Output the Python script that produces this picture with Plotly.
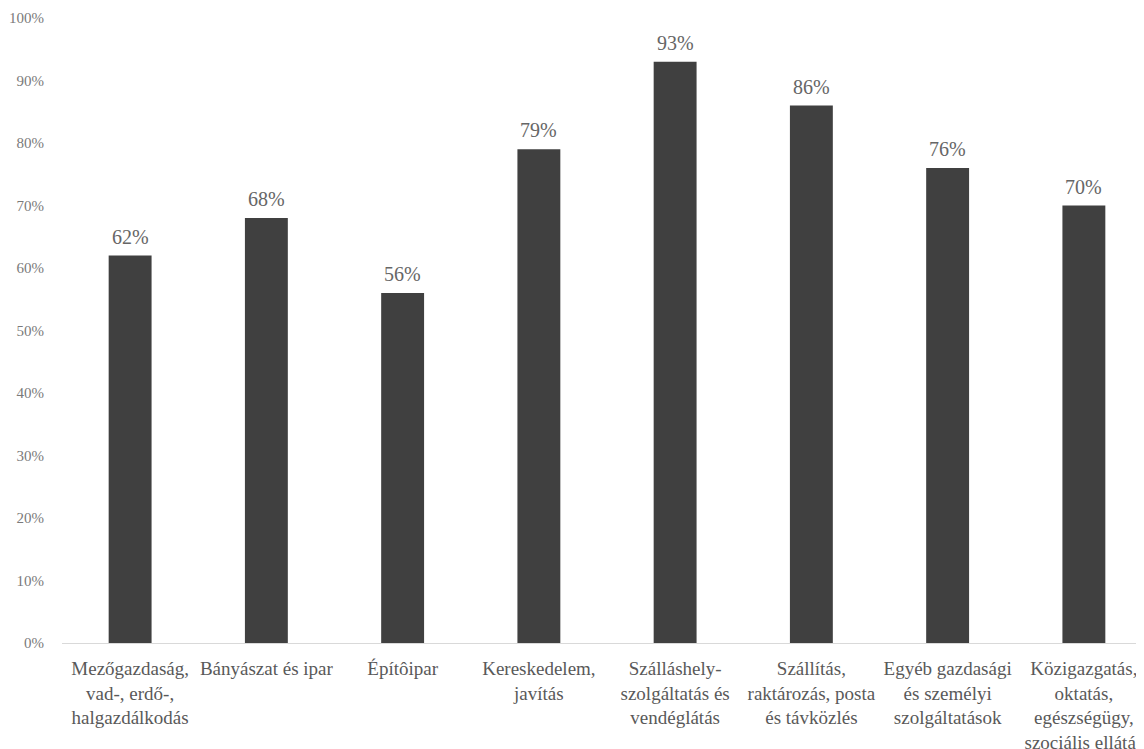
import plotly.graph_objects as go

categories = [
    "Mezőgazdaság,<br>vad-, erdő-,<br>halgazdálkodás",
    "Bányászat és ipar",
    "Építôipar",
    "Kereskedelem,<br>javítás",
    "Szálláshely-<br>szolgáltatás és<br>vendéglátás",
    "Szállítás,<br>raktározás, posta<br>és távközlés",
    "Egyéb gazdasági<br>és személyi<br>szolgáltatások",
    "Közigazgatás,<br>oktatás,<br>egészségügy,<br>szociális ellátás",
]
values = [62, 68, 56, 79, 93, 86, 76, 70]
y_ticks = [0, 10, 20, 30, 40, 50, 60, 70, 80, 90, 100]
y_tick_labels = [f"{v}%" for v in y_ticks]
value_labels = [f"{v}%" for v in values]

FONT = "Liberation Serif, Times New Roman, serif"

xs = list(range(len(categories)))

fig = go.Figure(go.Bar(
    x=xs,
    y=values,
    marker=dict(color="#404040", line=dict(width=0)),
))

for x, v, lbl in zip(xs, values, value_labels):
    fig.add_annotation(
        x=x, y=v, text=lbl, showarrow=False,
        xanchor="center", yanchor="bottom", yshift=6,
        font=dict(family=FONT, size=20, color="#666666"),
    )

fig.update_layout(
    width=1144, height=749,
    margin=dict(l=54, r=0, t=10, b=114, autoexpand=False),
    paper_bgcolor="white", plot_bgcolor="white",
    bargap=0.685,
    showlegend=False,
    font=dict(family=FONT, color="#595959"),
    xaxis=dict(
        tickmode="array",
        tickvals=xs,
        ticktext=categories,
        range=[-0.5, 7.5],
        showline=True, linecolor="#d9d9d9", linewidth=1,
        ticks="", showgrid=False, zeroline=False,
        tickfont=dict(family=FONT, size=19, color="#595959"),
        tickangle=0,
        automargin=False,
        ticklabelstandoff=8,
    ),
    yaxis=dict(
        range=[0, 100],
        tickmode="array",
        tickvals=y_ticks,
        ticktext=y_tick_labels,
        showgrid=False, zeroline=False, showline=False,
        ticks="",
        ticklabelstandoff=17,
        automargin=False,
        tickfont=dict(family=FONT, size=15, color="#7a7a7a"),
    ),
)

fig.write_html("out.html")
